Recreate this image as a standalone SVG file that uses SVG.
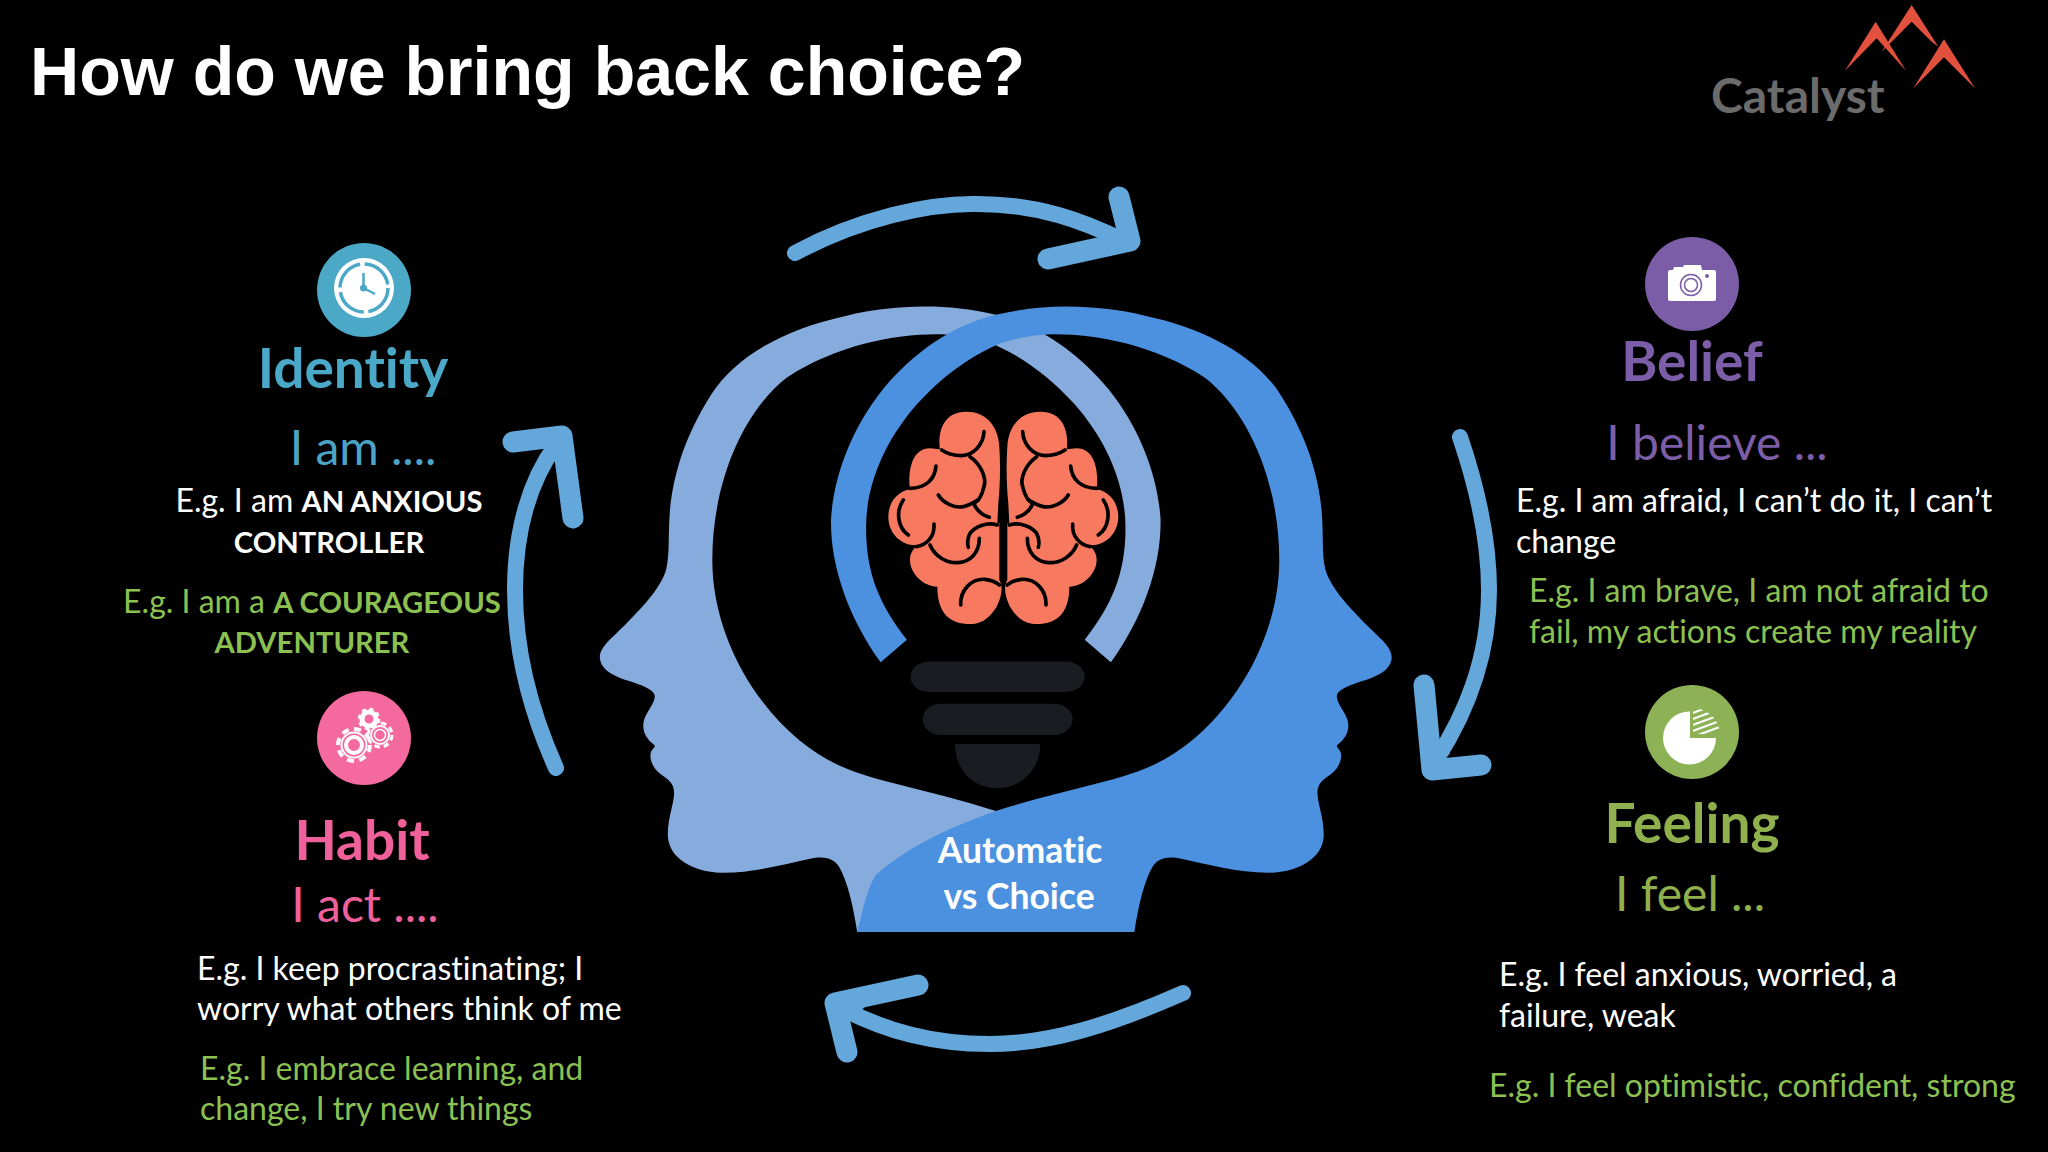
<svg xmlns="http://www.w3.org/2000/svg" width="2048" height="1152" viewBox="0 0 2048 1152">
<style>
text{font-family:Lato,"Open Sans","Liberation Sans",sans-serif;font-variant-ligatures:none}
.title{font-family:"Liberation Sans",Arial,sans-serif;font-weight:700;font-size:68.1px;fill:#fff}
.h{font-weight:700;font-size:55px}
.sub{font-size:48px}
.w{font-size:32px;fill:#fff}
.g{font-size:32px;fill:#8CC152}
.b{font-weight:700;font-size:29.2px}
.arrow{fill:none;stroke:#64A7DB;stroke-linecap:round;stroke-linejoin:round}
.shaft{stroke-width:16}
.head{stroke-width:21}
.wedge{fill:#64A7DB;stroke:none}
.fold{fill:none;stroke:#000;stroke-width:11;stroke-linecap:round}
.lobe{fill:#F77A60}
.gear{fill:none;stroke:#fff}
</style>
<defs>
<path id="headShape" d="M530,1500 C522,1440 512,1385 495,1350 C485,1330 465,1325 440,1332 C390,1345 330,1365 270,1364 C215,1362 170,1330 168,1280 C167,1240 180,1205 180,1180 C180,1160 170,1150 155,1138 C140,1125 133,1105 135,1090 C136,1080 146,1075 142,1070 C125,1055 118,1035 122,1015 C126,995 143,975 143,958 C143,945 125,935 100,925 C70,915 40,900 38,870 C37,845 60,825 85,795 C115,758 155,710 165,665 C172,630 168,590 172,530 C178,450 200,360 250,265 C300,170 400,110 510,82 C590,60 690,50 795,80 C880,105 950,165 1010,250 C1070,340 1105,450 1110,550 C1112,660 1075,780 1015,880 L965,828 C1015,750 1043,680 1043,570 C1043,460 1000,360 945,285 C900,225 850,180 795,150 C750,130 710,125 680,125 C600,125 490,150 395,225 C315,300 253,460 253,645 C253,800 320,960 420,1060 C480,1120 540,1140 600,1158 C665,1178 730,1197 795,1222 C890,1262 970,1310 1025,1370 C1045,1410 1050,1460 1060,1500 Z"/>
<g id="halfBrain">
<path class="lobe" d="M320,65 C375,65 415,105 418,170 C422,230 420,290 415,340 L412,400 L418,400 L418,570 C430,590 425,620 410,650 C385,690 360,702 330,702 C270,702 232,670 232,590 C190,590 150,550 150,510 C150,490 160,475 175,465 C125,470 85,430 85,380 C85,340 110,305 150,298 C145,270 145,175 210,175 L240,178 C235,150 235,65 320,65 Z"/>
<path class="fold" d="M372,125 C370,165 340,195 305,197 C280,197 260,190 245,180"/>
<path class="fold" d="M330,200 C365,225 380,265 372,290 C365,320 355,335 340,340"/>
<path class="fold" d="M235,315 C250,340 285,355 310,350 C330,345 345,335 355,330"/>
<path class="fold" d="M342,342 C350,360 365,375 388,382"/>
<path class="fold" d="M228,228 C225,265 200,295 150,295"/>
<path class="fold" d="M130,330 C105,365 115,415 145,435"/>
<path class="fold" d="M222,402 C225,440 200,465 170,470"/>
<path class="fold" d="M210,465 C225,500 260,520 295,518 C330,515 358,490 358,445"/>
<path class="fold" d="M412,405 C380,395 345,410 330,430 C322,445 322,460 325,472"/>
<path class="fold" d="M302,645 C300,600 335,565 375,568 C395,570 410,578 418,585"/>
</g>
<clipPath id="hatchClip"><path d="M1693,734 L1693,708 A27,27 0 0 1 1720,734 Z"/></clipPath>
</defs>
<rect width="2048" height="1152" fill="#000"/>
<text class="title" x="30" y="95">How do we bring back choice?</text>
<g id="logo">
<g transform="translate(1680,0) scale(.3333)" fill="#E2503E">
<path d="M695,15 L775,140 L755,125 L695,65 L605,155 Z"/>
<path d="M587,65 L678,212 L590,115 L495,212 Z"/>
<path d="M792,118 L885,265 L792,172 L700,265 Z"/>
</g>
<text x="1711" y="113" font-size="48" font-weight="700" fill="#6B6B6B">Catalyst</text>
</g>
<g id="connectors">
<g id="arrow-top" class="arrow"><path class="shaft" d="M795,253 C860,218 930,203 977,204 C1040,204 1085,222 1122,240"/><path class="head" d="M1119,197 L1130,241 L1048,259"/><path class="wedge" d="M1113,228 L1096,243 L1130,245 Z"/></g>
<g id="arrow-right" class="arrow"><path class="shaft" d="M1460,437 C1478,490 1489,540 1489,590 C1489,660 1465,715 1436,760"/><path class="head" d="M1424,685 L1432,770 L1481,765"/><path class="wedge" d="M1435,735 L1450,754 L1430,765 Z"/></g>
<g id="arrow-bottom" class="arrow"><path class="shaft" d="M1183,993 C1110,1025 1050,1044 990,1044 C930,1044 885,1030 845,1010"/><path class="head" d="M918,985 L835,1003 L847,1052"/><path class="wedge" d="M870,1002 L851,1020 L838,1005 Z"/></g>
<g id="arrow-left" class="arrow"><path class="shaft" d="M556,768 C530,710 515,650 515,590 C515,530 530,480 556,445"/><path class="head" d="M513,442 L562,436 L573,518"/><path class="wedge" d="M546,448 L560,470 L560,438 Z"/></g>
</g>
<g id="node-center">
<g transform="translate(580,280) scale(.523,.4345)">
<use href="#headShape" fill="#86ABDD"/>
<use href="#headShape" fill="#4B91E0" transform="translate(1590,0) scale(-1,1)"/>
<rect x="632" y="878" width="333" height="70" rx="35" ry="35" fill="#191C21"/>
<rect x="655" y="975" width="287" height="72" rx="36" ry="36" fill="#191C21"/>
<path d="M717,1068 L880,1068 C880,1130 840,1170 798,1170 C755,1170 717,1130 717,1068 Z" fill="#191C21"/>
</g>
<g transform="translate(860,390) scale(.3333)">
<use href="#halfBrain"/>
<use href="#halfBrain" transform="translate(860,0) scale(-1,1)"/>
</g>
<text x="1020" y="863" font-size="35.5" font-weight="700" fill="#fff" text-anchor="middle">Automatic</text>
<text x="1019" y="909" font-size="35.5" font-weight="700" fill="#fff" text-anchor="middle">vs Choice</text>
</g>
<g id="node-identity">
<circle cx="364" cy="290" r="47" fill="#4BA8C6"/>
<circle cx="364" cy="288" r="30" fill="#fff"/>
<circle cx="364" cy="288" r="24" fill="none" stroke="#4BA8C6" stroke-width="3.500" stroke-dasharray="33 4.7"/>
<path d="M363.5,273 L363.5,288 L375,294" fill="none" stroke="#4BA8C6" stroke-width="2.5"/>
<circle cx="363.5" cy="288" r="3.5" fill="#4BA8C6"/>
<text class="h" x="353" y="388" fill="#4AA8C8" text-anchor="middle">Identity</text>
<text class="sub" x="363" y="465" fill="#4DA3C5" text-anchor="middle">I am ....</text>
<text class="w" x="329" y="512" text-anchor="middle">E.g. I am <tspan class="b">AN ANXIOUS</tspan></text>
<text class="w b" x="329" y="553" text-anchor="middle">CONTROLLER</text>
<text class="g" x="312" y="613" text-anchor="middle">E.g. I am a <tspan class="b">A COURAGEOUS</tspan></text>
<text class="g b" x="312" y="653" text-anchor="middle">ADVENTURER</text>
</g>
<g id="node-habit">
<circle cx="364" cy="738" r="47" fill="#F56A9E"/>
<circle class="gear" cx="354" cy="745" r="16" stroke-width="4" stroke-dasharray="7 5.5"/>
<circle class="gear" cx="354" cy="745" r="12.5" stroke-width="2"/>
<circle class="gear" cx="354" cy="745" r="8" stroke-width="4"/>
<circle class="gear" cx="380" cy="735" r="12" stroke-width="3" stroke-dasharray="5.5 4"/>
<circle class="gear" cx="380" cy="735" r="9" stroke-width="2"/>
<circle class="gear" cx="380" cy="735" r="5.5" stroke-width="1.5"/>
<circle class="gear" cx="369" cy="719" r="7" stroke-width="5"/>
<circle class="gear" cx="369" cy="719" r="10" stroke-width="2.5" stroke-dasharray="4 3.9"/>
<text class="h" x="362" y="860" fill="#F0609A" text-anchor="middle">Habit</text>
<text class="sub" x="365" y="922" fill="#F0609A" text-anchor="middle">I act ....</text>
<text class="w" x="197" y="980">E.g. I keep procrastinating; I</text>
<text class="w" x="197" y="1020">worry what others think of me</text>
<text class="g" x="200" y="1080">E.g. I embrace learning, and</text>
<text class="g" x="200" y="1120">change, I try new things</text>
</g>
<g id="node-belief">
<circle cx="1692" cy="284" r="47" fill="#7A5DA6"/>
<path d="M1668,272 Q1668,270 1670,270 L1673,270 L1674,267 L1683,267 L1684,265 L1701,265 L1702,270 L1714,270 Q1716,270 1716,272 L1716,299 Q1716,301 1714,301 L1670,301 Q1668,301 1668,299 Z" fill="#fff"/>
<circle cx="1691" cy="285" r="10.5" fill="none" stroke="#7A5DA6" stroke-width="1.5"/>
<circle cx="1691" cy="285" r="6.5" fill="none" stroke="#7A5DA6" stroke-width="1.5"/>
<circle cx="1707" cy="276" r="2" fill="#7A5DA6"/>
<text class="h" x="1692" y="381" fill="#7B5EA7" text-anchor="middle">Belief</text>
<text class="sub" x="1717" y="460" fill="#7B5EA7" text-anchor="middle">I believe ...</text>
<text class="w" x="1516" y="512">E.g. I am afraid, I can’t do it, I can’t</text>
<text class="w" x="1516" y="553">change</text>
<text class="g" x="1529" y="602">E.g. I am brave, I am not afraid to</text>
<text class="g" x="1529" y="643">fail, my actions create my reality</text>
</g>
<g id="node-feeling">
<circle cx="1692" cy="732" r="47" fill="#8DB255"/>
<path d="M1690,738 L1716,738 A26.5,26.5 0 1 1 1690,711.500 Z" fill="#fff"/>
<g clip-path="url(#hatchClip)" stroke="#fff" stroke-width="2.2">
<path d="M1690,714 L1725,701 M1690,720 L1725,707 M1690,726 L1725,713 M1690,732 L1725,719 M1690,738 L1725,725"/>
</g>
<text class="h" x="1692" y="843" fill="#8FB04C" text-anchor="middle">Feeling</text>
<text class="sub" x="1690" y="911" fill="#8FB04C" text-anchor="middle">I feel ...</text>
<text class="w" x="1499" y="986">E.g. I feel anxious, worried, a</text>
<text class="w" x="1499" y="1027">failure, weak</text>
<text class="g" x="1489" y="1097">E.g. I feel optimistic, confident, strong</text>
</g>
</svg>
